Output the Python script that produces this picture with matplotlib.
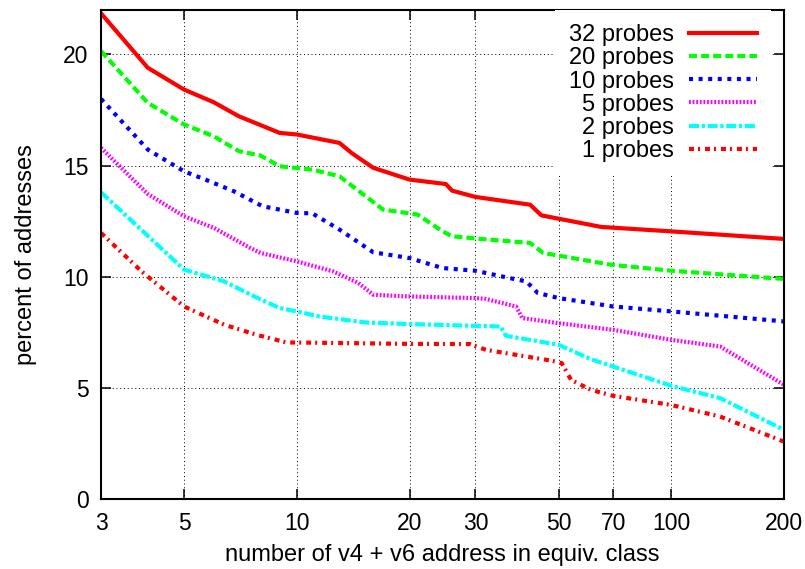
import matplotlib
matplotlib.use("Agg")
import matplotlib.pyplot as plt
from matplotlib.ticker import FixedLocator, FixedFormatter, NullLocator

plt.rcParams['font.family'] = ['Liberation Sans', 'DejaVu Sans']
plt.rcParams['lines.scale_dashes'] = False

# data
p32_x = [3, 4, 5, 6, 7, 9, 10, 13, 14, 16, 20, 25, 26, 30, 42, 45, 65, 100, 200]
p32_y = [21.85, 19.4, 18.42, 17.85, 17.22, 16.47, 16.4, 16.02, 15.57, 14.9,
         14.37, 14.17, 13.87, 13.59, 13.24, 12.76, 12.24, 12.04, 11.7]

p20_x = [3, 4, 5, 6, 7, 8, 9, 11, 13, 17, 20, 21, 24.5, 26, 31, 42, 45.5, 69, 100, 200]
p20_y = [20.15, 17.82, 16.85, 16.32, 15.65, 15.45, 14.97, 14.82, 14.52, 13.02,
         12.85, 12.8, 12.04, 11.82, 11.7, 11.52, 11.07, 10.54, 10.27, 9.9]

p10_x = [3, 4, 5, 5.7, 6.8, 8.1, 10, 11, 13, 16, 20, 24.5, 30, 37, 41, 44, 50, 70, 100, 200]
p10_y = [18.0, 15.72, 14.74, 14.37, 13.84, 13.17, 12.87, 12.85, 12.12, 11.1,
         10.84, 10.39, 10.27, 9.94, 9.79, 9.27, 9.04, 8.66, 8.44, 7.99]

p5_x = [3, 4, 5, 6, 7.5, 8, 10, 12.5, 14.6, 16, 20, 30, 32, 38.5, 40, 50, 70, 100, 135, 200]
p5_y = [15.8, 13.72, 12.72, 12.2, 11.3, 11.07, 10.69, 10.24, 9.72, 9.19,
        9.11, 9.04, 9.0, 8.66, 8.14, 7.91, 7.61, 7.16, 6.86, 5.14]

p2_x = [3, 5, 6.4, 7.7, 9, 10, 11.5, 15.3, 20, 30, 35, 36.2, 50, 61, 70, 100, 135, 200]
p2_y = [13.8, 10.32, 9.79, 9.11, 8.59, 8.44, 8.21, 7.94, 7.87, 7.79,
        7.76, 7.34, 6.94, 6.29, 5.96, 5.09, 4.54, 3.11]

p1_x = [3, 3.85, 5, 6.4, 7.8, 9.4, 10, 20, 29, 32, 48, 51, 54, 61, 70, 100, 135, 200]
p1_y = [11.97, 10.24, 8.66, 7.84, 7.39, 7.04, 7.04, 6.98, 6.97, 6.71,
        6.22, 6.11, 5.36, 4.91, 4.64, 4.23, 3.71, 2.58]

xticks = [3, 5, 10, 20, 30, 50, 70, 100, 200]
yticks = [0, 5, 10, 15, 20]

fig = plt.figure(figsize=(8.05, 5.69), dpi=100)
ax = fig.add_axes([101/805, 70/569, 683/805, 489/569])

ax.plot(p32_x, p32_y, color='#ff0000', lw=3, label='32 probes')
ax.plot(p20_x, p20_y, color='#00ff00', lw=3, ls=(0, (5.8, 2.9)), label='20 probes')
ax.plot(p10_x, p10_y, color='#0000ff', lw=3, ls=(0, (2.9, 4.0)), label='10 probes')
ax.plot(p5_x, p5_y, color='#ff00ff', lw=3, ls=(0, (1.3, 1.3)), label='5 probes')
ax.plot(p2_x, p2_y, color='#00ffff', lw=3, ls=(0, (7.2, 1.9, 2.4, 1.9)), label='2 probes')
ax.plot(p1_x, p1_y, color='#ff0000', lw=3, ls=(0, (3.6, 2.9, 1.4, 3.6)), label='1 probes')

ax.set_xscale('log')
ax.set_xlim(3, 200)
ax.set_ylim(0, 22)
ax.xaxis.set_major_locator(FixedLocator(xticks))
ax.xaxis.set_major_formatter(FixedFormatter([str(t) for t in xticks]))
ax.xaxis.set_minor_locator(NullLocator())
ax.set_yticks(yticks)

ax.tick_params(which='major', direction='in', length=7, width=1.1,
               top=True, right=True, labelsize=16.5, pad=9)
for s in ax.spines.values():
    s.set_linewidth(1.5)

ax.grid(True, color='black', lw=0.7, ls=(0, (0.7, 2.0)))

ax.set_xlabel('number of v4 + v6 address in equiv. class', fontsize=17, labelpad=7)
ax.set_ylabel('percent of addresses', fontsize=17, labelpad=19)

leg = ax.legend(loc='upper right', bbox_to_anchor=(0.981, 1.0), borderaxespad=0,
                markerfirst=False, fontsize=17, handlelength=2.88, handletextpad=0.64,
                labelspacing=0.05, borderpad=0.6, frameon=True, fancybox=False,
                framealpha=1, facecolor='white', edgecolor='none')

fig.savefig('out.png', dpi=100)
